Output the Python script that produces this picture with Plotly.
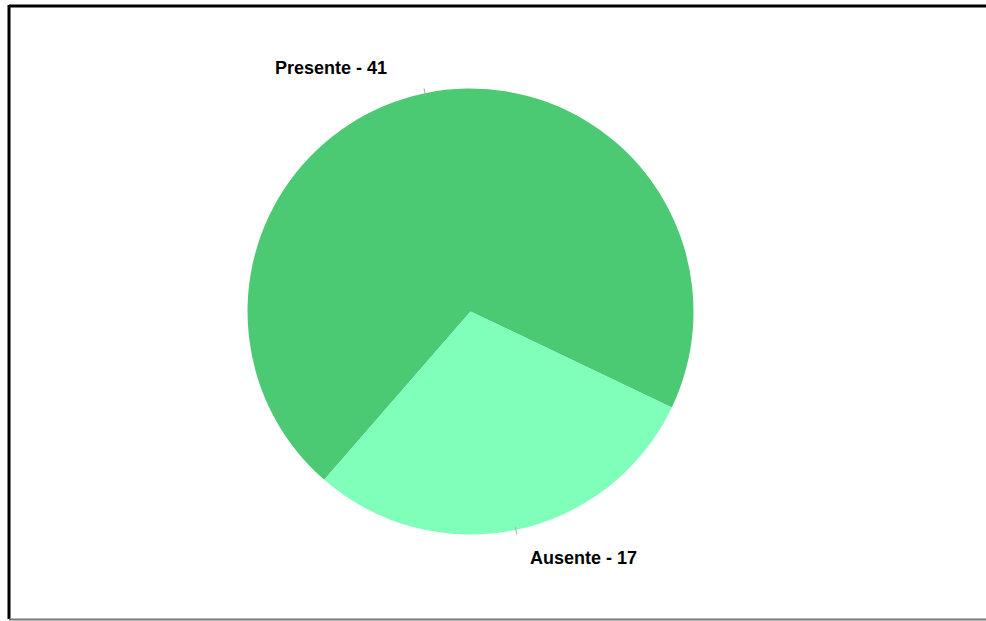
import math
import plotly.graph_objects as go

labels = ["Presente", "Ausente"]
values = [41, 17]
colors = ["#4BC973", "#80FFBA"]
rotation = -139

W, H = 986, 621
cx, cy, r = 470.5, 311.5, 223

fig = go.Figure(go.Pie(
    labels=labels,
    values=values,
    marker=dict(colors=colors, line=dict(width=0)),
    sort=False,
    direction="clockwise",
    rotation=rotation,
    textinfo="none",
    showlegend=False,
    hoverinfo="label+value",
    domain=dict(x=[(cx - r) / W, (cx + r) / W], y=[(H - cy - r) / H, (H - cy + r) / H]),
))

# label placement (pixel offsets from the tick at each slice's mid-angle)
label_offsets = [(-35, -20, "right"), (11, 23, "left")]
total = sum(values)
start = rotation
annotations = []
shapes = []
for lab, val, (dx, dy, anchor) in zip(labels, values, label_offsets):
    mid = math.radians(start + 360 * val / total / 2)
    start += 360 * val / total
    sx, sy = math.sin(mid), -math.cos(mid)
    x1, y1 = cx + (r - 3) * sx, cy + (r - 3) * sy
    x2, y2 = cx + (r + 5) * sx, cy + (r + 5) * sy
    shapes.append(dict(type="line", xref="paper", yref="paper",
                       x0=x1 / W, y0=1 - y1 / H, x1=x2 / W, y1=1 - y2 / H,
                       line=dict(color="#aaaaaa", width=1)))
    annotations.append(dict(
        text=f"<b>{lab} - {val}</b>", xref="paper", yref="paper",
        x=(x2 + dx) / W, y=1 - (y2 + dy) / H, xanchor=anchor, yanchor="middle",
        showarrow=False,
        font=dict(family="Liberation Sans, Arial, sans-serif", size=18, color="black"),
    ))

shapes += [
    dict(type="line", xref="paper", yref="paper", x0=9 / W, x1=1.01, y0=1 - 6 / H, y1=1 - 6 / H,
         line=dict(color="black", width=3)),
    dict(type="line", xref="paper", yref="paper", x0=9 / W, x1=9 / W, y0=1 - 5 / H, y1=1 - 619 / H,
         line=dict(color="black", width=3)),
    dict(type="line", xref="paper", yref="paper", x0=9 / W, x1=1.01, y0=1 - 619.5 / H, y1=1 - 619.5 / H,
         line=dict(color="#777777", width=2)),
]

fig.update_layout(
    width=W, height=H,
    margin=dict(l=0, r=0, t=0, b=0),
    paper_bgcolor="white",
    plot_bgcolor="white",
    shapes=shapes,
    annotations=annotations,
)

fig.write_html("out.html", config={"displayModeBar": False},
               post_script="document.body.style.margin='0px';document.body.style.overflow='hidden';")
